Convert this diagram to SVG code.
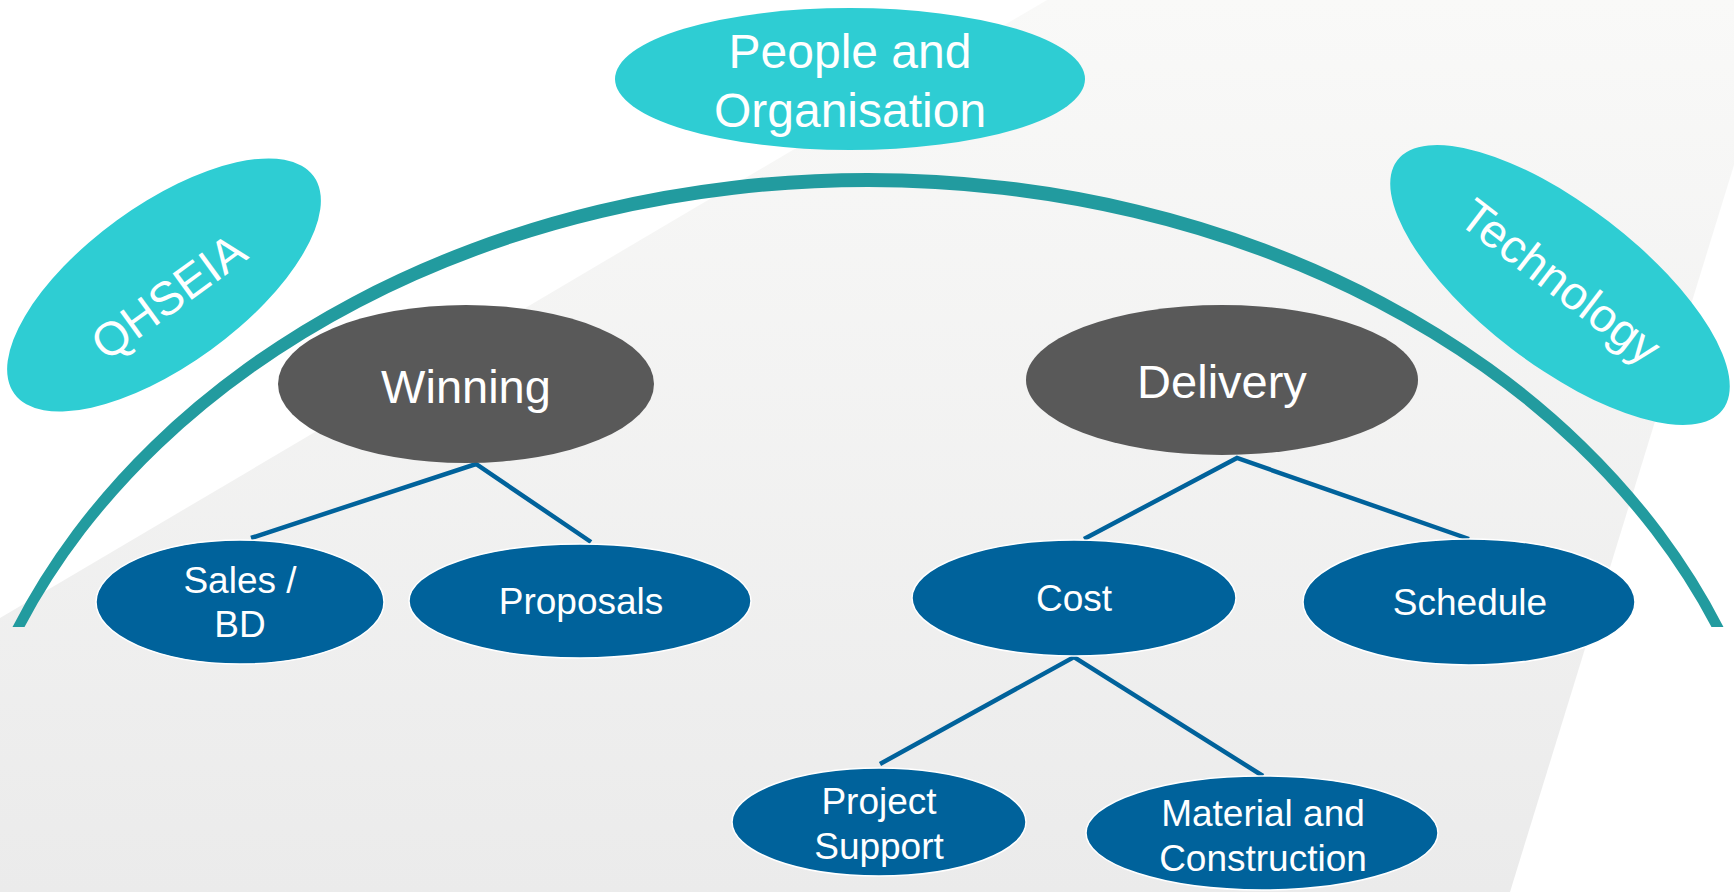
<svg xmlns="http://www.w3.org/2000/svg" width="1734" height="892" viewBox="0 0 1734 892">
  <defs>
    <linearGradient id="bg" x1="0" y1="0" x2="0" y2="892" gradientUnits="userSpaceOnUse">
      <stop offset="0" stop-color="#f9f9f8"/>
      <stop offset="1" stop-color="#ebebeb"/>
    </linearGradient>
    <style>
      text { font-family: "Liberation Sans", Arial, sans-serif; fill: #ffffff; text-anchor: middle; }
      .cyan { fill: #2ecdd3; }
      .dark { fill: #595959; }
      .blue { fill: #00629b; stroke: #ffffff; stroke-width: 1.5; }
      .big { font-size: 47px; }
      .mid { font-size: 48px; }
      .small { font-size: 37px; }
      .conn { stroke: #00629b; stroke-width: 4.5; fill: none; stroke-linecap: butt; }
    </style>
  </defs>

  <rect x="0" y="0" width="1734" height="892" fill="#ffffff"/>
  <polygon points="1047,0 1734,0 1734,165 1510,892 0,892 0,618" fill="url(#bg)"/>

  <g id="arc">
    <path d="M 12.5 627 A 922 724 0 0 1 1723.5 627 L 1711.5 627 A 912 710 0 0 0 24.5 627 Z" fill="#229b9f"/>
  </g>

  <g id="connectors">
    <polyline class="conn" points="251,538 476,464 591,542"/>
    <polyline class="conn" points="1084,539 1237,458 1469,539"/>
    <polyline class="conn" points="880,764 1074,657 1263,776"/>
  </g>

  <g id="people">
    <ellipse class="cyan" cx="850" cy="79" rx="235" ry="71"/>
    <text class="mid" x="850" y="68">People and</text>
    <text class="mid" x="850" y="127">Organisation</text>
  </g>

  <g id="qhseia">
    <ellipse class="cyan" cx="164" cy="285" rx="185" ry="80" transform="rotate(-36 164 285)"/>
    <text class="big" x="168" y="313" transform="rotate(-36 168 296)">QHSEIA</text>
  </g>

  <g id="technology">
    <ellipse class="cyan" cx="1560" cy="285" rx="205" ry="80" transform="rotate(37.5 1560 285)"/>
    <text class="big" x="1561" y="298" transform="rotate(37.5 1561 281)">Technology</text>
  </g>

  <g id="winning">
    <ellipse class="dark" cx="466" cy="384" rx="188" ry="79"/>
    <text class="big" x="466" y="403">Winning</text>
  </g>

  <g id="delivery">
    <ellipse class="dark" cx="1222" cy="380" rx="196" ry="75"/>
    <text class="big" x="1222" y="398">Delivery</text>
  </g>

  <g id="sales">
    <ellipse class="blue" cx="240" cy="602" rx="144" ry="62"/>
    <text class="small" x="240" y="593">Sales /</text>
    <text class="small" x="240" y="637">BD</text>
  </g>

  <g id="proposals">
    <ellipse class="blue" cx="580" cy="601" rx="171" ry="57"/>
    <text class="small" x="581" y="614">Proposals</text>
  </g>

  <g id="cost">
    <ellipse class="blue" cx="1074" cy="598" rx="162" ry="58"/>
    <text class="small" x="1074" y="611">Cost</text>
  </g>

  <g id="schedule">
    <ellipse class="blue" cx="1469" cy="602" rx="166" ry="63"/>
    <text class="small" x="1470" y="615">Schedule</text>
  </g>

  <g id="project-support">
    <ellipse class="blue" cx="879" cy="822" rx="147" ry="54"/>
    <text class="small" x="879" y="814">Project</text>
    <text class="small" x="879" y="859">Support</text>
  </g>

  <g id="material">
    <ellipse class="blue" cx="1262" cy="833" rx="176" ry="57"/>
    <text class="small" x="1263" y="826">Material and</text>
    <text class="small" x="1263" y="871">Construction</text>
  </g>
</svg>
